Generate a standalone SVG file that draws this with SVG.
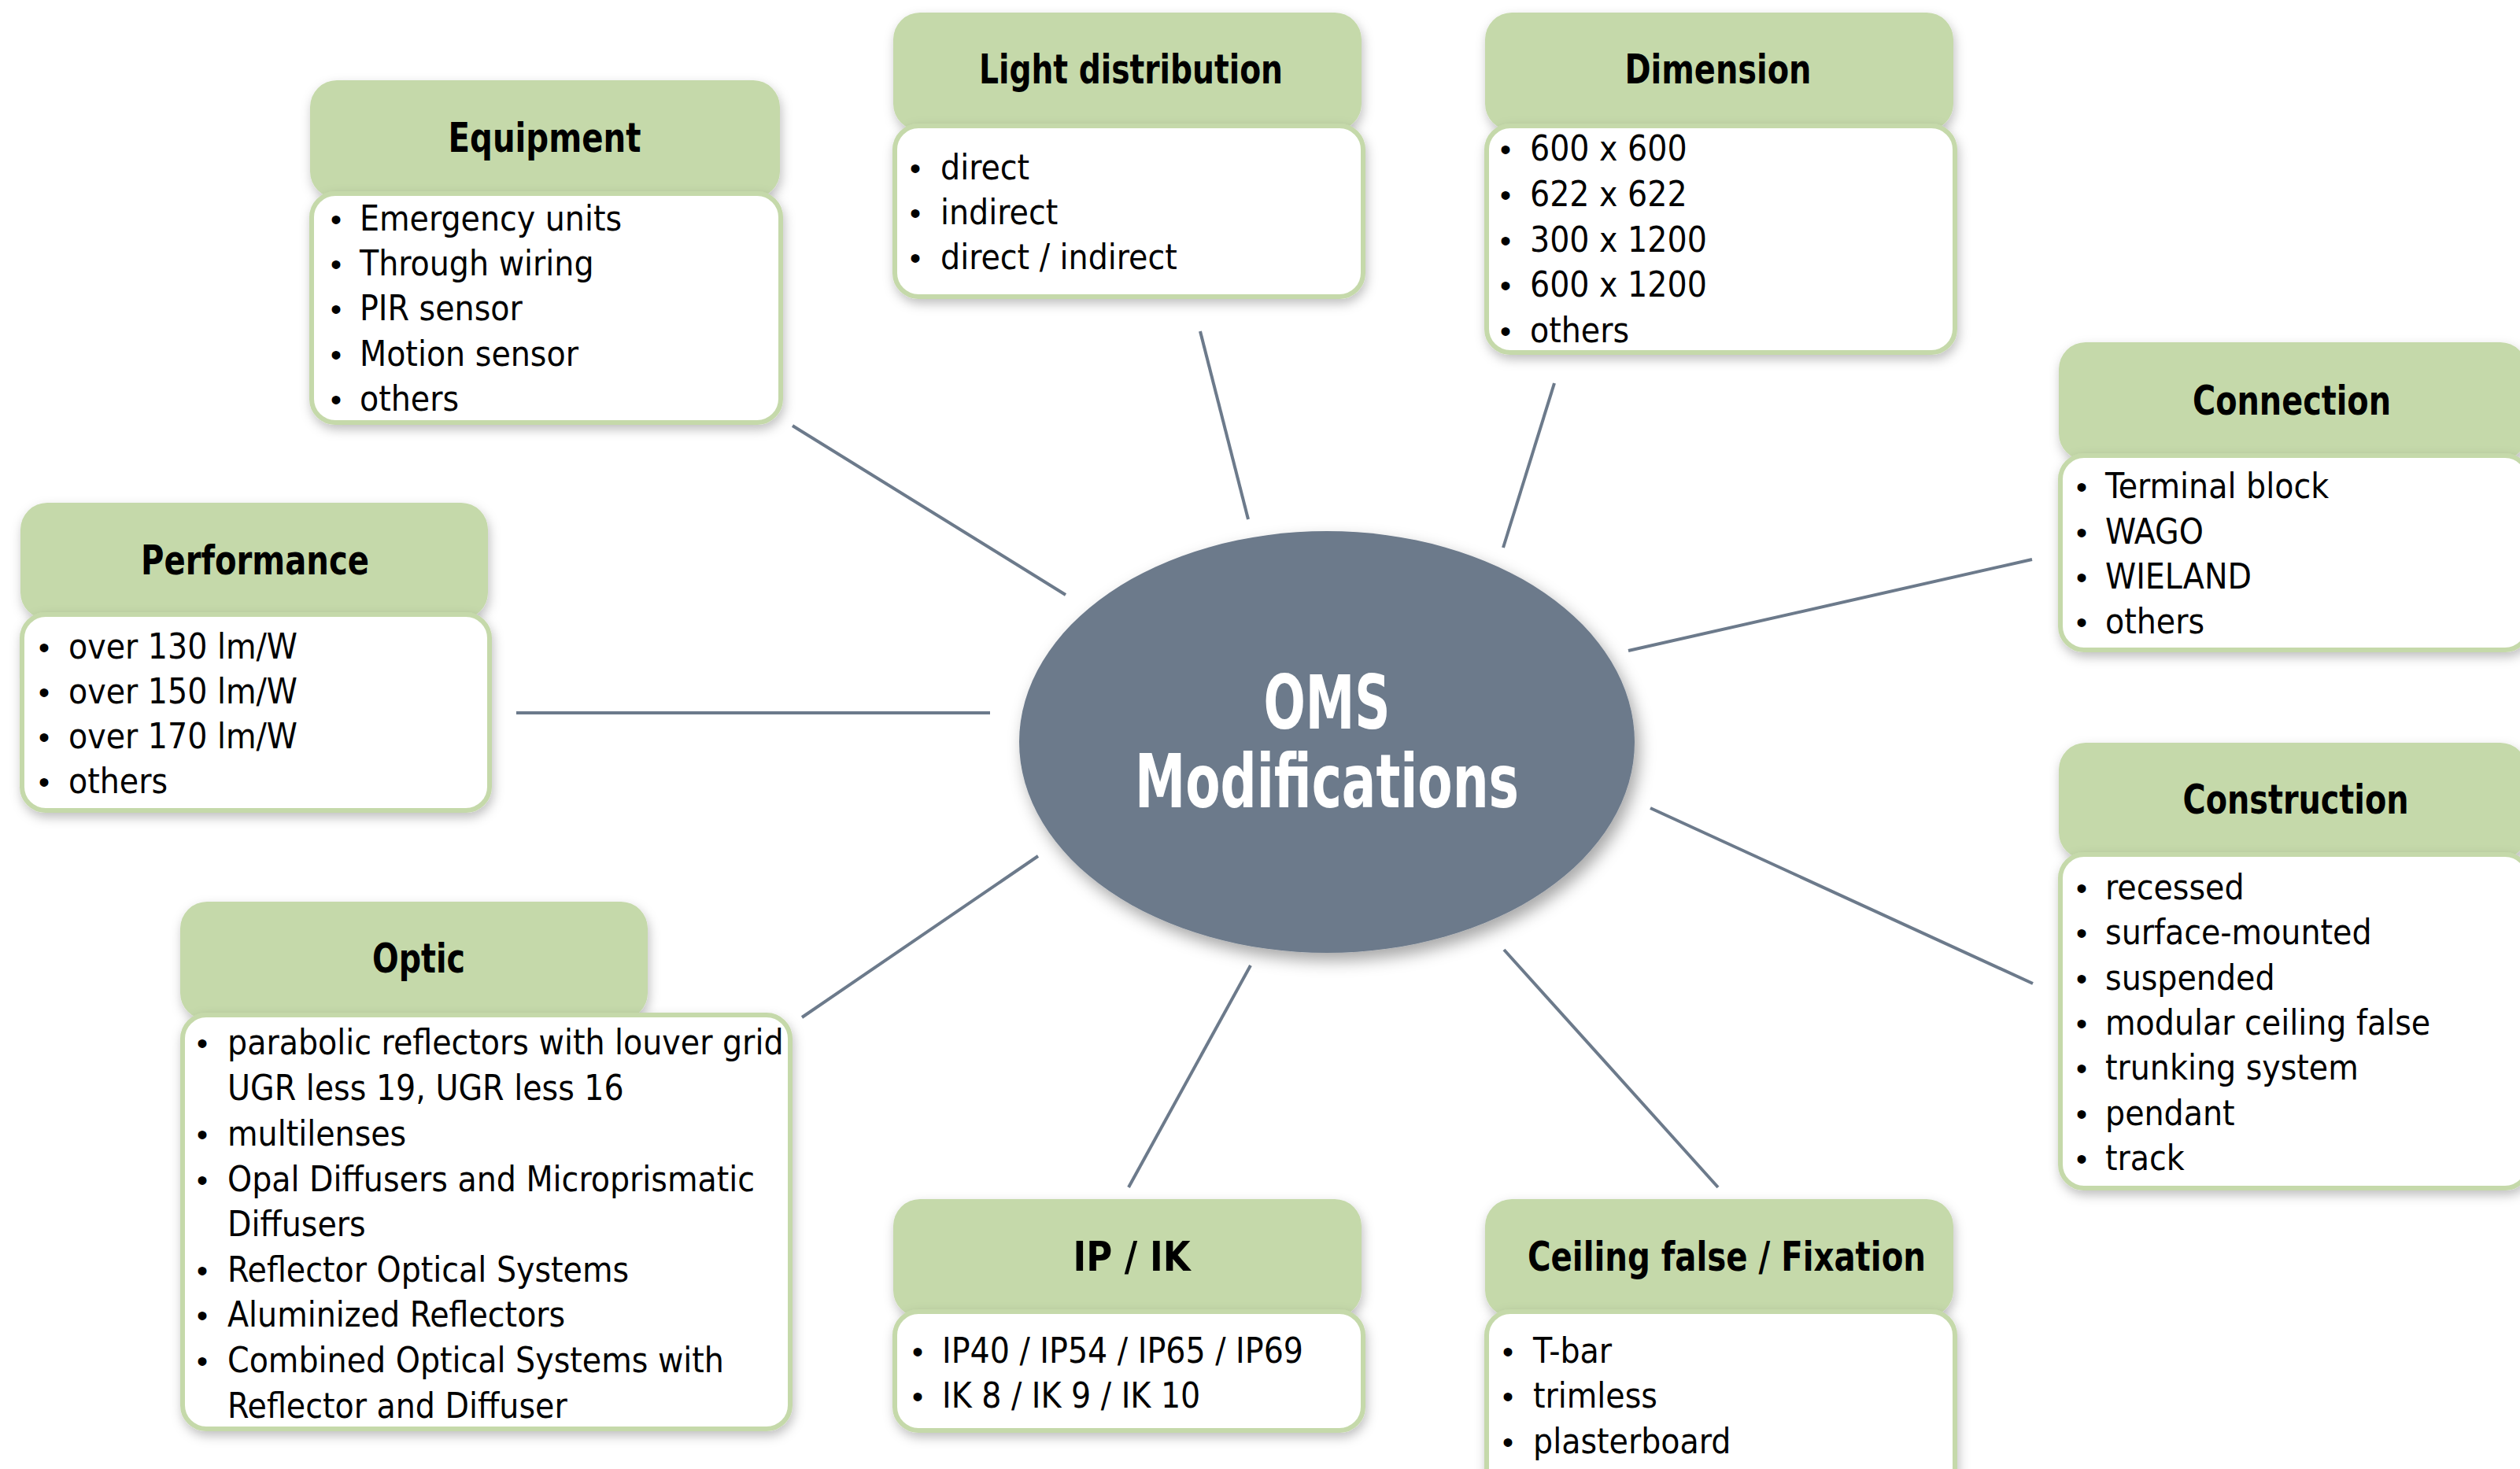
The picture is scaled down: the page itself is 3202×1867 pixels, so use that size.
<svg xmlns="http://www.w3.org/2000/svg" width="3202" height="1867" viewBox="0 0 3202 1867">
<defs>
<filter id="sh" x="-10%" y="-15%" width="125%" height="140%">
<feDropShadow dx="2" dy="6" stdDeviation="7" flood-color="#000" flood-opacity="0.25"/>
</filter>
<filter id="shc" x="-10%" y="-10%" width="125%" height="130%">
<feDropShadow dx="6" dy="10" stdDeviation="10" flood-color="#000" flood-opacity="0.35"/>
</filter>
</defs>
<style>
.hd{fill:#c5d9aa;filter:url(#sh)}
.bd{fill:#fff;stroke:#c5d9aa;stroke-width:6;filter:url(#sh)}
.t{font-family:"Liberation Sans Narrow","DejaVu Sans Condensed","Roboto Condensed","Liberation Sans",sans-serif;font-weight:bold;font-size:51px;fill:#000;text-anchor:middle}
.i{font-family:"Liberation Sans Narrow","DejaVu Sans Condensed","Roboto Condensed","Liberation Sans",sans-serif;font-size:44px;fill:#000}
.b{font-family:"Liberation Sans",sans-serif;font-size:40px;fill:#000;text-anchor:middle}
.c{font-family:"Liberation Sans Narrow","DejaVu Sans Condensed","Roboto Condensed","Liberation Sans",sans-serif;font-weight:bold;font-size:94px;fill:#fff;text-anchor:middle}
.ln{stroke:#6c7a8b;stroke-width:4;fill:none}
</style>
<rect width="3202" height="1867" fill="#fff"/>

<g id="connectors">
<line class="ln" x1="1007" y1="541" x2="1354" y2="756"/>
<line class="ln" x1="1525" y1="421" x2="1586" y2="660"/>
<line class="ln" x1="1975" y1="487" x2="1910" y2="696"/>
<line class="ln" x1="2582" y1="711" x2="2069" y2="827"/>
<line class="ln" x1="656" y1="906" x2="1258" y2="906"/>
<line class="ln" x1="2097" y1="1027" x2="2583" y2="1250"/>
<line class="ln" x1="1019" y1="1293" x2="1319" y2="1088"/>
<line class="ln" x1="1589" y1="1227" x2="1434" y2="1509"/>
<line class="ln" x1="1911" y1="1207" x2="2183" y2="1509"/>
</g>

<g id="center">
<ellipse cx="1686" cy="943" rx="391" ry="268" fill="#6c7a8b" filter="url(#shc)"/>
<text class="c" x="1686" y="926" textLength="161" lengthAdjust="spacingAndGlyphs">OMS</text>
<text class="c" x="1686" y="1026" textLength="488" lengthAdjust="spacingAndGlyphs">Modifications</text>
</g>

<g id="equipment">
<rect class="hd" x="394" y="102" width="597" height="150" rx="34"/>
<rect class="bd" x="396" y="246" width="596" height="291" rx="30"/>
<text class="t" x="692" y="193" textLength="245" lengthAdjust="spacingAndGlyphs">Equipment</text>
<text class="b" x="427" y="293">•</text><text class="i" x="457" y="293">Emergency units</text>
<text class="b" x="427" y="350">•</text><text class="i" x="457" y="350">Through wiring</text>
<text class="b" x="427" y="407">•</text><text class="i" x="457" y="407">PIR sensor</text>
<text class="b" x="427" y="465">•</text><text class="i" x="457" y="465">Motion sensor</text>
<text class="b" x="427" y="522">•</text><text class="i" x="457" y="522">others</text>
</g>

<g id="light-distribution">
<rect class="hd" x="1135" y="16" width="595" height="150" rx="34"/>
<rect class="bd" x="1137" y="160" width="595" height="217" rx="30"/>
<text class="t" x="1437" y="106" textLength="386" lengthAdjust="spacingAndGlyphs">Light distribution</text>
<text class="b" x="1163" y="228">•</text><text class="i" x="1195" y="228">direct</text>
<text class="b" x="1163" y="285">•</text><text class="i" x="1195" y="285">indirect</text>
<text class="b" x="1163" y="342">•</text><text class="i" x="1195" y="342">direct / indirect</text>
</g>

<g id="dimension">
<rect class="hd" x="1887" y="16" width="595" height="150" rx="34"/>
<rect class="bd" x="1889" y="160" width="595" height="288" rx="30"/>
<text class="t" x="2183" y="106" textLength="237" lengthAdjust="spacingAndGlyphs">Dimension</text>
<text class="b" x="1913" y="204">•</text><text class="i" x="1944" y="204">600 x 600</text>
<text class="b" x="1913" y="262">•</text><text class="i" x="1944" y="262">622 x 622</text>
<text class="b" x="1913" y="320">•</text><text class="i" x="1944" y="320">300 x 1200</text>
<text class="b" x="1913" y="377">•</text><text class="i" x="1944" y="377">600 x 1200</text>
<text class="b" x="1913" y="435">•</text><text class="i" x="1944" y="435">others</text>
</g>

<g id="connection">
<rect class="hd" x="2616" y="435" width="595" height="150" rx="34"/>
<rect class="bd" x="2618" y="579" width="595" height="247" rx="30"/>
<text class="t" x="2912" y="527" textLength="252" lengthAdjust="spacingAndGlyphs">Connection</text>
<text class="b" x="2645" y="633">•</text><text class="i" x="2675" y="633">Terminal block</text>
<text class="b" x="2645" y="691">•</text><text class="i" x="2675" y="691">WAGO</text>
<text class="b" x="2645" y="748">•</text><text class="i" x="2675" y="748">WIELAND</text>
<text class="b" x="2645" y="805">•</text><text class="i" x="2675" y="805">others</text>
</g>

<g id="performance">
<rect class="hd" x="26" y="639" width="594" height="148" rx="34"/>
<rect class="bd" x="28" y="781" width="594" height="249" rx="30"/>
<text class="t" x="324" y="730" textLength="290" lengthAdjust="spacingAndGlyphs">Performance</text>
<text class="b" x="56" y="837">•</text><text class="i" x="87" y="837">over 130 lm/W</text>
<text class="b" x="56" y="894">•</text><text class="i" x="87" y="894">over 150 lm/W</text>
<text class="b" x="56" y="951">•</text><text class="i" x="87" y="951">over 170 lm/W</text>
<text class="b" x="56" y="1008">•</text><text class="i" x="87" y="1008">others</text>
</g>

<g id="construction">
<rect class="hd" x="2616" y="944" width="595" height="148" rx="34"/>
<rect class="bd" x="2618" y="1086" width="595" height="424" rx="30"/>
<text class="t" x="2917" y="1034" textLength="287" lengthAdjust="spacingAndGlyphs">Construction</text>
<text class="b" x="2645" y="1143">•</text><text class="i" x="2675" y="1143">recessed</text>
<text class="b" x="2645" y="1200">•</text><text class="i" x="2675" y="1200">surface-mounted</text>
<text class="b" x="2645" y="1258">•</text><text class="i" x="2675" y="1258">suspended</text>
<text class="b" x="2645" y="1315">•</text><text class="i" x="2675" y="1315">modular ceiling false</text>
<text class="b" x="2645" y="1372">•</text><text class="i" x="2675" y="1372">trunking system</text>
<text class="b" x="2645" y="1430">•</text><text class="i" x="2675" y="1430">pendant</text>
<text class="b" x="2645" y="1487">•</text><text class="i" x="2675" y="1487">track</text>
</g>

<g id="optic">
<rect class="hd" x="229" y="1146" width="594" height="150" rx="34"/>
<rect class="bd" x="232" y="1290" width="772" height="526" rx="30"/>
<text class="t" x="532" y="1236" textLength="118" lengthAdjust="spacingAndGlyphs">Optic</text>
<text class="b" x="257" y="1340">•</text><text class="i" x="289" y="1340">parabolic reflectors with louver grid</text>
<text class="i" x="289" y="1398">UGR less 19, UGR less 16</text>
<text class="b" x="257" y="1456">•</text><text class="i" x="289" y="1456">multilenses</text>
<text class="b" x="257" y="1514">•</text><text class="i" x="289" y="1514">Opal Diffusers and Microprismatic</text>
<text class="i" x="289" y="1571">Diffusers</text>
<text class="b" x="257" y="1629">•</text><text class="i" x="289" y="1629">Reflector Optical Systems</text>
<text class="b" x="257" y="1686">•</text><text class="i" x="289" y="1686">Aluminized Reflectors</text>
<text class="b" x="257" y="1744">•</text><text class="i" x="289" y="1744">Combined Optical Systems with</text>
<text class="i" x="289" y="1802">Reflector and Diffuser</text>
</g>

<g id="ip-ik">
<rect class="hd" x="1135" y="1524" width="595" height="150" rx="34"/>
<rect class="bd" x="1137" y="1667" width="595" height="151" rx="30"/>
<text class="t" x="1438" y="1615" textLength="149" lengthAdjust="spacingAndGlyphs">IP / IK</text>
<text class="b" x="1166" y="1732">•</text><text class="i" x="1197" y="1732">IP40 / IP54 / IP65 / IP69</text>
<text class="b" x="1166" y="1789">•</text><text class="i" x="1197" y="1789">IK 8 / IK 9 / IK 10</text>
</g>

<g id="ceiling-fixation">
<rect class="hd" x="1887" y="1524" width="595" height="150" rx="34"/>
<rect class="bd" x="1889" y="1667" width="595" height="240" rx="30"/>
<text class="t" x="2194" y="1615" textLength="506" lengthAdjust="spacingAndGlyphs">Ceiling false / Fixation</text>
<text class="b" x="1916" y="1732">•</text><text class="i" x="1948" y="1732">T-bar</text>
<text class="b" x="1916" y="1789">•</text><text class="i" x="1948" y="1789">trimless</text>
<text class="b" x="1916" y="1847">•</text><text class="i" x="1948" y="1847">plasterboard</text>
</g>
</svg>
